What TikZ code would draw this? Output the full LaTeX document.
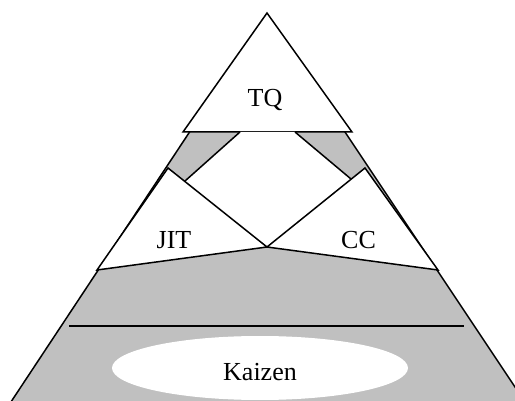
\documentclass[tikz,border=0pt]{standalone}
\usepackage{fontspec}
\setmainfont{Liberation Serif}
\definecolor{pyrgray}{RGB}{192,192,192}
\tikzset{
  edge/.style={draw=black,line width=1.5pt,line join=miter},
  whitepart/.style={fill=white,edge},
  lbl/.style={anchor=base,inner sep=0pt,font=\fontsize{26}{30}\selectfont}
}
\begin{document}
\begin{tikzpicture}[x=1pt,y=-1pt]
\useasboundingbox (0,0) rectangle (515,401);
\clip (0,0) rectangle (515,401);
% coordinates
\coordinate (apex) at (267,15);
\coordinate (bl) at (-1,420);
\coordinate (br) at (537,420);
\coordinate (tqtop) at (267,13);
\coordinate (tqL) at (183,132);
\coordinate (tqR) at (352,132);
\coordinate (dL1) at (240,132);
\coordinate (dR1) at (295,132);
\coordinate (dL2) at (185,181);
\coordinate (dR2) at (351,179);
\coordinate (mid) at (267,247);
\coordinate (jitA) at (168,168);
\coordinate (jitB) at (97,270);
\coordinate (ccA) at (365,168);
\coordinate (ccB) at (438,270);
\coordinate (hL) at (69,326);
\coordinate (hR) at (464,326);
% outer pyramid
\path[fill=pyrgray,edge] (apex) -- (bl) -- (br) -- cycle;
% TQ
\path[whitepart] (tqtop) -- (tqL) -- (tqR) -- cycle;
% diamond
\fill[white] (dL1) -- (dR1) -- (dR2) -- (mid) -- (dL2) -- cycle;
\draw[edge] (dL2) -- (dL1);
\draw[edge] (dR1) -- (dR2);
% JIT and CC
\path[whitepart] (jitA) -- (jitB) -- (mid) -- cycle;
\path[whitepart] (ccA) -- (ccB) -- (mid) -- cycle;
% horizontal line
\draw[edge] (hL) -- (hR);
% Kaizen ellipse
\fill[white] (260,368) ellipse [x radius=148, y radius=32];
% labels
\node[lbl] (tq) at (265,107) {TQ};
\node[lbl] (jit) at (174,249) {JIT};
\node[lbl] (cc) at (358.5,249) {CC};
\node[lbl] (kaizen) at (260,381) {Kaizen};
\end{tikzpicture}
\end{document}
